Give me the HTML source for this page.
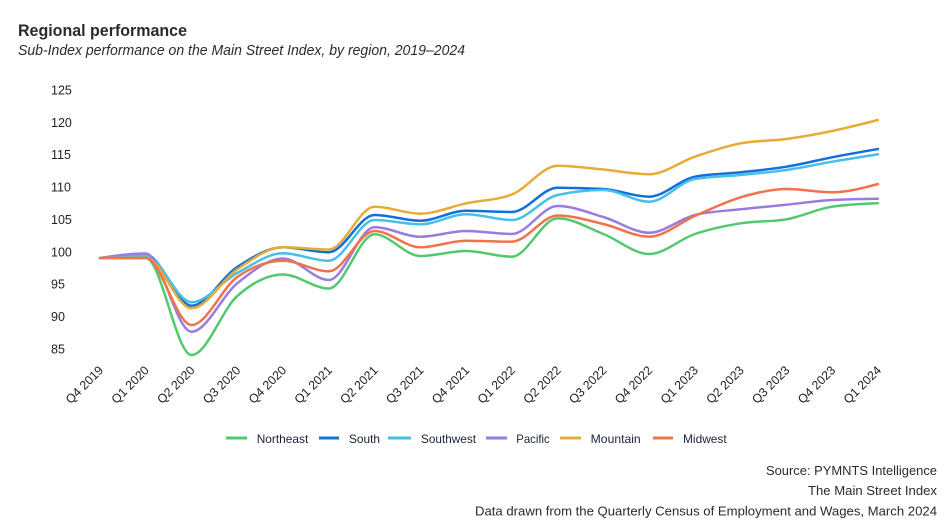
<!DOCTYPE html>
<html>
<head>
<meta charset="utf-8">
<style>
  html,body{margin:0;padding:0;background:#fff;}
  svg{display:block;}
  text{font-family:"Liberation Sans",Arial,sans-serif;}
</style>
</head>
<body>
<svg id="chart" width="944" height="524" viewBox="0 0 944 524" xmlns="http://www.w3.org/2000/svg">
  <rect x="0" y="0" width="944" height="524" fill="#ffffff"/>
  <text x="18" y="36" font-size="17" font-weight="bold" fill="#2b2b2b" textLength="169" lengthAdjust="spacingAndGlyphs">Regional performance</text>
  <text x="18" y="55" font-size="14.5" font-style="italic" fill="#2b2b2b" textLength="447" lengthAdjust="spacingAndGlyphs">Sub-Index performance on the Main Street Index, by region, 2019–2024</text>

  <g font-size="12.5" fill="#222222">
    <text x="51" y="94.5">125</text>
    <text x="51" y="126.9">120</text>
    <text x="51" y="159.2">115</text>
    <text x="51" y="191.6">110</text>
    <text x="51" y="224">105</text>
    <text x="51" y="256.4">100</text>
    <text x="51" y="288.7">95</text>
    <text x="51" y="321.1">90</text>
    <text x="51" y="353.5">85</text>
  </g>

  <g id="xlabels" font-size="12.3" fill="#222222" text-anchor="end"></g>
  <g id="series" fill="none" stroke-width="2.5" stroke-linejoin="round" stroke-linecap="round"></g>

  <g>
    <line x1="226" y1="438" x2="247" y2="438" stroke="#52c96f" stroke-width="3"/>
    <text x="256.7" y="443" font-size="12" fill="#1c2235" textLength="51.6" lengthAdjust="spacingAndGlyphs">Northeast</text>
    <line x1="319" y1="438" x2="339" y2="438" stroke="#1270db" stroke-width="3"/>
    <text x="349" y="443" font-size="12" fill="#1c2235" textLength="31" lengthAdjust="spacingAndGlyphs">South</text>
    <line x1="388" y1="438" x2="411" y2="438" stroke="#47bfe6" stroke-width="3"/>
    <text x="421" y="443" font-size="12" fill="#1c2235" textLength="55" lengthAdjust="spacingAndGlyphs">Southwest</text>
    <line x1="486" y1="438" x2="507" y2="438" stroke="#9a7be0" stroke-width="3"/>
    <text x="516.3" y="443" font-size="12" fill="#1c2235" textLength="33.4" lengthAdjust="spacingAndGlyphs">Pacific</text>
    <line x1="560" y1="438" x2="581" y2="438" stroke="#e8ab35" stroke-width="3"/>
    <text x="590.7" y="443" font-size="12" fill="#1c2235" textLength="50" lengthAdjust="spacingAndGlyphs">Mountain</text>
    <line x1="653" y1="438" x2="673" y2="438" stroke="#f0734b" stroke-width="3"/>
    <text x="683" y="443" font-size="12" fill="#1c2235" textLength="43.7" lengthAdjust="spacingAndGlyphs">Midwest</text>
  </g>

  <g font-size="13" fill="#2b2b2b" text-anchor="end">
    <text x="937" y="475" textLength="171" lengthAdjust="spacingAndGlyphs">Source: PYMNTS Intelligence</text>
    <text x="937" y="495" textLength="129" lengthAdjust="spacingAndGlyphs">The Main Street Index</text>
    <text x="937" y="515.5" textLength="462" lengthAdjust="spacingAndGlyphs">Data drawn from the Quarterly Census of Employment and Wages, March 2024</text>
  </g>
</svg>
<script>
(function(){
  var NS = "http://www.w3.org/2000/svg";
  var labels = ["Q4 2019","Q1 2020","Q2 2020","Q3 2020","Q4 2020","Q1 2021","Q2 2021","Q3 2021","Q4 2021","Q1 2022","Q2 2022","Q3 2022","Q4 2022","Q1 2023","Q2 2023","Q3 2023","Q4 2023","Q1 2024"];
  var xs = [];
  for (var i=0;i<18;i++) xs.push(100 + i*45.76);
  var xl = document.getElementById("xlabels");
  for (var i=0;i<18;i++){
    var t = document.createElementNS(NS,"text");
    var ax = xs[i]+4, ay = 371;
    t.setAttribute("x", ax);
    t.setAttribute("y", ay);
    t.setAttribute("transform","rotate(-45 "+ax+" "+ay+")");
    t.textContent = labels[i];
    xl.appendChild(t);
  }
  var series = [
    {c:"#52c96f", y:[258,258,355,296,274.5,288.5,234.3,256,251,256.7,218.3,234,254,234,223.3,219.3,206.7,203.3]},
    {c:"#1270db", y:[258,254.5,305.7,267,247.3,252.3,215,220.7,210.7,212,187.7,189,196.7,176.7,172.3,166.7,157.3,149]},
    {c:"#47bfe6", y:[258,255.5,302.3,273,253.3,260.8,220,224.3,214.3,220,195,190,201.7,179,175,170,161.7,154.3]},
    {c:"#9a7be0", y:[258,253.5,331.7,283.3,258.5,280,227.3,236.7,231,234,206,217,232.7,215,209.3,204.7,200,198.7]},
    {c:"#e8ab35", y:[258,258,308.3,269.3,247.3,249.5,206.7,213.7,203.3,194.5,165.7,169.5,174.3,156.7,143.3,139,131,120]},
    {c:"#f0734b", y:[258,258,325,277,260.8,271.3,231,247.3,240.7,241.7,215.5,224,236.7,216,197.3,189,192.3,184]}
  ];
  function sgn(v){return v<0?-1:1;}
  function mono(x,y){
    var n=x.length,h=[],s=[],t=[];
    for(var i=0;i<n-1;i++){h[i]=x[i+1]-x[i];s[i]=(y[i+1]-y[i])/h[i];}
    for(var i=1;i<n-1;i++){
      var p=(s[i-1]*h[i]+s[i]*h[i-1])/(h[i-1]+h[i]);
      t[i]=(sgn(s[i-1])+sgn(s[i]))*Math.min(Math.abs(s[i-1]),Math.abs(s[i]),0.5*Math.abs(p))||0;
    }
    t[0]=(3*s[0]-t[1])/2;
    t[n-1]=(3*s[n-2]-t[n-2])/2;
    var d="M"+x[0].toFixed(2)+","+y[0].toFixed(2);
    for(var i=0;i<n-1;i++){
      var dx=h[i]/3;
      d+="C"+(x[i]+dx).toFixed(2)+","+(y[i]+dx*t[i]).toFixed(2)+" "+(x[i+1]-dx).toFixed(2)+","+(y[i+1]-dx*t[i+1]).toFixed(2)+" "+x[i+1].toFixed(2)+","+y[i+1].toFixed(2);
    }
    return d;
  }
  var g=document.getElementById("series");
  series.forEach(function(sr){
    var p=document.createElementNS(NS,"path");
    p.setAttribute("d",mono(xs,sr.y));
    p.setAttribute("stroke",sr.c);
    g.appendChild(p);
  });
})();
</script>
</body>
</html>
